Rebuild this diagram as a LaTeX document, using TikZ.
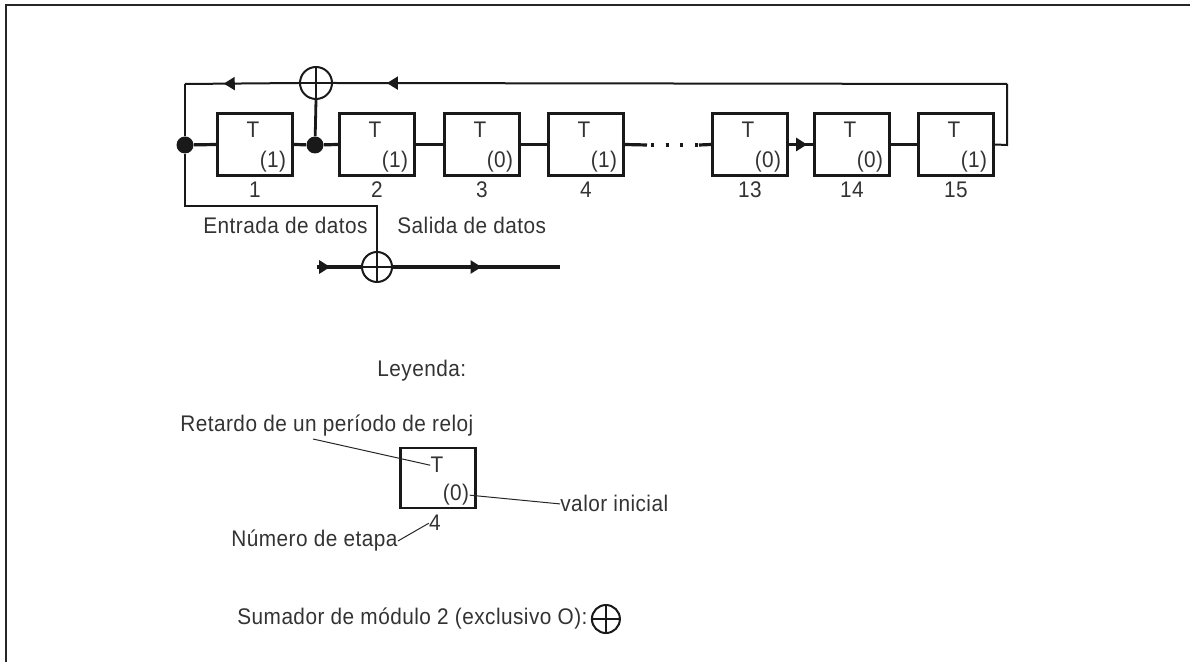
\documentclass[tikz,border=0pt]{standalone}
\usepackage{fontspec}
\setmainfont[FakeStretch=0.92,LetterSpace=2]{Liberation Sans}
\usetikzlibrary{arrows.meta,decorations.markings,calc}
\tikzset{
  box/.style={draw=black!90, line width=1.3pt, minimum width=37.5pt, minimum height=31pt, inner sep=0pt},
  txt/.style={font=\fontsize{11.3}{13}\selectfont, text=black!80, inner sep=0pt, anchor=base},
  wire/.style={line width=1.6pt, draw=black!90},
  fb/.style={line width=1pt, draw=black!90},
  data/.style={line width=2.3pt, draw=black!90},
  dotnode/.style={circle, fill=black!90, inner sep=0pt, minimum size=8.5pt},
  xor/.style={circle, draw=black!90, line width=1pt, inner sep=0pt, minimum size=#1,
    path picture={\draw[line width=0.9pt, black!90]
      (path picture bounding box.north) -- (path picture bounding box.south)
      (path picture bounding box.west) -- (path picture bounding box.east);}},
  leader/.style={line width=0.5pt, draw=black!85},
  midarrow/.style={postaction={decorate}, decoration={markings,
    mark=at position #1 with {\arrow{Triangle[length=5.5pt,width=6.5pt]}}}},
}
\begin{document}
\begin{tikzpicture}[x=0.5pt,y=-0.5pt]
\useasboundingbox (0,0) rectangle (1190,662);
% frame
\coordinate (fbl) at (6,662);
\coordinate (ftl) at (6,5);
\coordinate (ftr) at (1190,5);
\draw[line width=1pt, black!85] (fbl) -- (ftl) -- (ftr);

% shift register stages
\foreach \i/\cx/\v in {1/255/1, 2/377/1, 3/482/0, 4/586/1, 13/750/0, 14/852/0, 15/956/1} {
  \node[box] (b\i) at (\cx,144.5) {};
  \node[txt] (t\i) at (\cx-2,138) {T};
  \node[txt] (v\i) at (\cx+18,168) {(\v)};
  \node[txt] (n\i) at (\cx,198) {\i};
}

\node[dotnode] (A) at (185,145) {};
\node[dotnode] (B) at (315,145) {};
\node[xor=16pt] (x1) at (316,83) {};
\node[xor=15pt] (x2) at (377,267) {};

\coordinate (tl) at (185,84);
\coordinate (tr) at (1007,84);
\coordinate (rr) at (1007,145);
\coordinate (bl) at (185,206);
\coordinate (br) at (377,206);
\coordinate (din) at (317,267);
\coordinate (dout) at (560,267);
\coordinate (e1) at (647,145);
\coordinate (d1) at (651,145);
\coordinate (e2) at (699,145);

% chain
\draw[wire] (A) -- (b1.west);
\draw[wire] (b1.east) -- (B);
\draw[wire] (B) -- (b2.west);
\draw[wire] (b2.east) -- (b3.west);
\draw[wire] (b3.east) -- (b4.west);
\draw[wire] (b4.east) -- (e1);
\draw[wire, dash pattern=on 1.5pt off 5.75pt] (d1) -- (e2);
\draw[wire] (e2) -- (b13.west);
\draw[wire, midarrow=0.75] (b13.east) -- (b14.west);
\draw[wire] (b14.east) -- (b15.west);

% feedback
\draw[fb] (b15.east) -- (rr) -- (tr);
\draw[fb, midarrow=0.92] (tr) -- (x1.east);
\draw[fb, midarrow=0.66] (x1.west) -- (tl);
\draw[fb] (tl) -- (A);
\draw[line width=1.4pt, black!90] (x1.south) -- (B);
\draw[fb] (A) -- (bl) -- (br) -- (x2.north);

% data line
\draw[data, midarrow=0.3] (din) -- (x2.west);
\draw[data, midarrow=0.53] (x2.east) -- (dout);

\node[txt, anchor=base west] (ent) at (203,234) {Entrada de datos};
\node[txt, anchor=base west] (sal) at (397,234) {Salida de datos};

% legend
\node[txt, anchor=base west] (ley) at (377,377) {Leyenda:};
\node[txt, anchor=base west] (ret) at (180,432) {Retardo de un período de reloj};
\node[box, minimum height=30pt] (lb) at (438,478) {};
\node[txt] (lt) at (437,473) {T};
\node[txt] (lv) at (456,501) {(0)};
\node[txt] (ln) at (435,531) {4};
\node[txt, anchor=base west] (vi) at (560,512) {valor inicial};
\node[txt, anchor=base west] (ne) at (231,547) {Número de etapa};
\node[txt, anchor=base west] (sum) at (237,625) {Sumador de módulo 2 (exclusivo O):};
\node[xor=14pt, anchor=west] (lx) at ([xshift=1.5pt]sum.east) {};

\coordinate (rl) at (313,439);
\draw[leader] (rl) -- (lt.west);
\draw[leader] (lv.east) -- (vi.west);
\draw[leader] (ne.east) -- (ln.west);
\end{tikzpicture}
\end{document}
